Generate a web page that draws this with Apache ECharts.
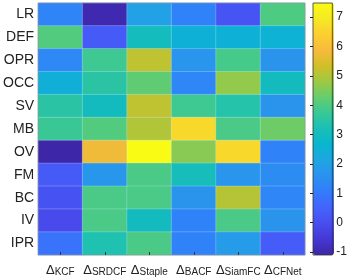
<!DOCTYPE html>
<html>
<head>
<meta charset="utf-8">
<script src="https://cdn.jsdelivr.net/npm/echarts@6/dist/echarts.min.js"></script>
<style>
  html, body { margin: 0; padding: 0; background: #fff; }
  #chart { width: 350px; height: 280px; }
</style>
</head>
<body>
<div id="chart"></div>
<script>
// 行：属性，列：跟踪器
const rows = ['LR', 'DEF', 'OPR', 'OCC', 'SV', 'MB', 'OV', 'FM', 'BC', 'IV', 'IPR']
const trackers = ['KCF', 'SRDCF', 'Staple', 'BACF', 'SiamFC', 'CFNet']
const values = [
  [1.25, -1.0, 2.0, 1.2, 0.15, 4.0],
  [4.05, 0.3, 3.05, 2.5, 2.5, 2.55],
  [1.35, 3.8, 5.15, 1.7, 3.9, 1.65],
  [2.45, 3.5, 4.2, 1.3, 4.7, 3.0],
  [3.5, 3.0, 5.15, 3.8, 3.4, 1.65],
  [3.75, 4.05, 5.0, 6.6, 3.95, 4.35],
  [-1.1, 5.75, 7.48, 4.6, 6.6, 1.2],
  [0.3, 1.75, 3.95, 3.1, 1.7, 1.45],
  [0.1, 3.95, 3.95, 1.65, 5.05, 1.3],
  [-0.1, 3.95, 3.0, 1.2, 3.95, 1.65],
  [0.85, 3.3, 3.95, 1.2, 1.85, 0.35]
]
const colorTicks = [-1, 0, 1, 2, 3, 4, 5, 6, 7]
const cMin = -1.1
const cMax = 7.48

const parula = ['#3e26a8', '#4537d5', '#484df0', '#4563fd', '#327cfc', '#2b91ef',
  '#20a5e3', '#08b5d0', '#19bfb6', '#37c897', '#64cd6f', '#9dc943', '#d1bf27',
  '#f8ba3d', '#fccf30', '#f5e924', '#f9fb15']

const data = []
values.forEach((row, i) => {
  row.forEach((v, j) => {
    data.push([j, i, v])
  })
})

const chart = echarts.init(document.getElementById('chart'))
const font = 'Liberation Sans, Arial, sans-serif'
chart.setOption({
  animation: false,
  grid: [
    { left: 23, top: 3, width: 282, height: 252, show: true, borderColor: '#888', borderWidth: 0.6, z: 10 },
    { left: 313, top: 3, width: 21, height: 252, show: true, borderColor: '#333', borderWidth: 0.8, backgroundColor: 'transparent', z: 10 }
  ],
  xAxis: [
    {
      type: 'category',
      gridIndex: 0,
      data: trackers,
      axisLine: { show: false },
      axisTick: { show: true, inside: true, alignWithLabel: true, length: 3, lineStyle: { color: '#333' } },
      splitLine: { show: false },
      z: 10,
      axisLabel: {
        margin: 9,
        interval: 0,
        formatter: (v) => '{a|Δ}{b|' + v + '}',
        rich: {
          a: { fontFamily: font, fontSize: 13, color: '#222', lineHeight: 13, verticalAlign: 'top' },
          b: { fontFamily: font, fontSize: 10, color: '#222', lineHeight: 10, padding: [11, 0, 0, 0], verticalAlign: 'bottom' }
        }
      }
    },
    { type: 'value', gridIndex: 1, show: false, min: 0, max: 1 }
  ],
  yAxis: [
    {
      type: 'category',
      gridIndex: 0,
      data: rows,
      inverse: true,
      axisLine: { show: false },
      axisTick: { show: false },
      splitLine: { show: false },
      z: 10,
      axisLabel: { margin: 4, fontFamily: font, fontSize: 14, color: '#222' }
    },
    {
      type: 'value',
      gridIndex: 1,
      position: 'right',
      min: cMin,
      max: cMax,
      z: 10,
      axisLine: { show: false },
      splitLine: { show: false },
      axisTick: { show: true, inside: true, length: 3, customValues: colorTicks, lineStyle: { color: '#222' } },
      axisLabel: { margin: 4, fontFamily: font, fontSize: 12, color: '#222', customValues: colorTicks }
    }
  ],
  visualMap: {
    type: 'continuous',
    min: cMin,
    max: cMax,
    seriesIndex: 0,
    calculable: false,
    left: 313,
    top: 3,
    padding: 0,
    itemWidth: 21,
    itemHeight: 252,
    text: null,
    showLabel: false,
    inRange: { color: parula }
  },
  series: [
    {
      type: 'heatmap',
      xAxisIndex: 0,
      yAxisIndex: 0,
      data: data,
      itemStyle: { borderColor: 'rgba(210,240,255,0.45)', borderWidth: 0.6 },
      emphasis: { disabled: true }
    }
  ]
})
</script>
</body>
</html>
